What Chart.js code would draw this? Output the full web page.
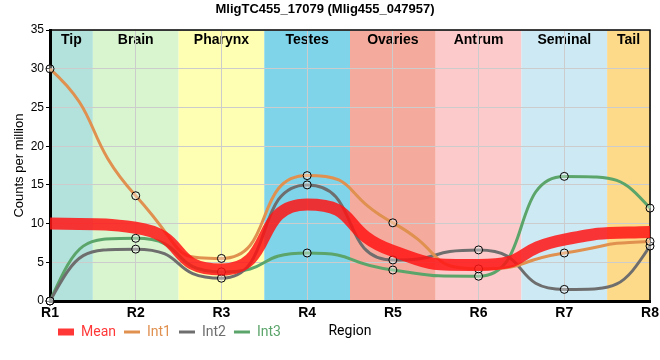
<!DOCTYPE html>
<html>
<head>
<meta charset="utf-8">
<script src="https://cdn.jsdelivr.net/npm/chart.js@4.4.1/dist/chart.umd.min.js"></script>
<style>
  html, body { margin: 0; padding: 0; background: #ffffff; }
  #wrap { width: 660px; height: 360px; position: relative; }
</style>
</head>
<body>
<div id="wrap"><canvas id="c" width="660" height="360"></canvas></div>
<script>
// ---- data ----
const categories = ['R1', 'R2', 'R3', 'R4', 'R5', 'R6', 'R7', 'R8'];
const meanValues = [10.0, 9.47, 4.07, 12.47, 6.47, 4.65, 7.93, 8.93];
const int1Values = [30.0, 13.6, 5.5, 16.2, 10.1, 4.15, 6.2, 7.7];
const int2Values = [0.0, 6.7, 2.94, 15.0, 5.3, 6.6, 1.5, 7.1];
const int3Values = [0.0, 8.1, 3.76, 6.2, 4.0, 3.2, 16.1, 12.0];
const regionNames = ['Tip', 'Brain', 'Pharynx', 'Testes', 'Ovaries', 'Antrum', 'Seminal', 'Tail'];
const regionColors = ['#b3e2dd', '#d9f5d0', '#ffffb3', '#80d4ea', '#f4ab9d', '#fccaca', '#cdeaf4', '#fdda8a'];
const yMin = 0, yMax = 35, yStep = 5;
const chartTitle = 'MligTC455_17079 (Mlig455_047957)';
const xTitle = 'Region';
const yTitle = 'Counts per million';

const seriesColors = {
  Mean: 'rgba(255,20,20,0.85)',
  Int1: '#e0904f',
  Int2: '#6e6e6e',
  Int3: '#5ba56a'
};

Chart.defaults.font.family = '"Liberation Sans", Arial, sans-serif';
Chart.defaults.color = '#000';

const bandsPlugin = {
  id: 'bands',
  beforeDraw(chart) {
    const {ctx, chartArea: a, scales: {x}} = chart;
    ctx.save();
    for (let i = 0; i < regionNames.length; i++) {
      let l = Math.max(a.left, x.getPixelForValue(i - 0.5));
      let r = Math.min(a.right, x.getPixelForValue(i + 0.5));
      ctx.fillStyle = regionColors[i];
      ctx.fillRect(l, a.top, r - l, a.bottom - a.top);
    }
    ctx.fillStyle = '#000';
    ctx.font = 'bold 14px "Liberation Sans", Arial, sans-serif';
    ctx.textAlign = 'center';
    ctx.textBaseline = 'middle';
    for (let i = 0; i < regionNames.length; i++) {
      let l = Math.max(a.left, x.getPixelForValue(i - 0.5));
      let r = Math.min(a.right, x.getPixelForValue(i + 0.5));
      ctx.fillText(regionNames[i], (l + r) / 2, a.top + 10);
    }
    ctx.restore();
  },
  beforeDatasetsDraw(chart) {
    const {ctx, chartArea: a} = chart;
    ctx.save();
    ctx.strokeStyle = '#000';
    ctx.lineWidth = 1.5;
    ctx.beginPath();
    ctx.moveTo(a.left, a.top);
    ctx.lineTo(a.right, a.top);
    ctx.lineTo(a.right, a.bottom);
    ctx.stroke();
    ctx.restore();
  }
};

// Smoother, plateau-style monotone curve: longer Bezier handles on the library's own points
const smoothPlugin = {
  id: 'smoothCurves',
  beforeDatasetsDraw(chart) {
    const K = 1.9;
    chart.data.datasets.forEach((ds, di) => {
      const meta = chart.getDatasetMeta(di);
      if (!meta.dataset || !meta.data.length) return;
      meta.dataset.updateControlPoints(chart.chartArea, 'x');
      const pts = meta.data;
      const n = pts.length;
      const d = [];
      const m = new Array(n).fill(0);
      for (let i = 0; i < n - 1; i++) d.push((pts[i + 1].y - pts[i].y) / (pts[i + 1].x - pts[i].x));
      for (let i = 1; i < n - 1; i++) m[i] = d[i - 1] * d[i] > 0 ? (d[i - 1] + d[i]) / 2 : 0;
      m[0] = d[0] === 0 ? 0 : d[0] * Math.max(0.3, 3 - 3.2 * (m[1] / d[0]));
      m[n - 1] = d[n - 2] === 0 ? 0 : d[n - 2] * Math.max(0.3, 3 - 3.2 * (m[n - 2] / d[n - 2]));
      for (let i = 0; i < n - 1; i++) {
        if (d[i] === 0) { m[i] = 0; m[i + 1] = 0; continue; }
        const a = m[i] / d[i], b = m[i + 1] / d[i];
        const s = a * a + b * b;
        if (s > 9) { const t = 3 / Math.sqrt(s); m[i] = t * a * d[i]; m[i + 1] = t * b * d[i]; }
      }
      for (let i = 0; i < n; i++) {
        const p = pts[i];
        if (i < n - 1) {
          const q = pts[i + 1];
          let hx = K * (q.x - p.x) / 3, hy = m[i] * hx;
          const lim = Math.abs(q.y - p.y);
          if (hy !== 0 && Math.abs(hy) > lim) { const s = lim / Math.abs(hy); hx *= s; hy *= s; }
          p.cp2x = p.x + hx; p.cp2y = p.y + hy;
        } else { p.cp2x = p.x; p.cp2y = p.y; }
        if (i > 0) {
          const o = pts[i - 1];
          let hx = K * (p.x - o.x) / 3, hy = m[i] * hx;
          const lim = Math.abs(p.y - o.y);
          if (hy !== 0 && Math.abs(hy) > lim) { const s = lim / Math.abs(hy); hx *= s; hy *= s; }
          p.cp1x = p.x - hx; p.cp1y = p.y - hy;
        } else { p.cp1x = p.x; p.cp1y = p.y; }
      }
      meta.dataset._path = undefined;
    });
  }
};

function lineDs(label, data, width, points) {
  return {
    label: label,
    data: data,
    borderColor: seriesColors[label],
    backgroundColor: seriesColors[label],
    borderWidth: width,
    cubicInterpolationMode: 'monotone',
    fill: false,
    pointRadius: points ? 4 : 0,
    pointHoverRadius: points ? 4 : 0,
    pointBorderColor: '#000',
    pointBorderWidth: 1,
    pointBackgroundColor: 'rgba(255,255,255,0.35)',
    clip: false
  };
}

new Chart(document.getElementById('c'), {
  type: 'line',
  data: {
    labels: categories,
    datasets: [
      lineDs('Mean', meanValues, 12, false),
      lineDs('Int1', int1Values, 3, true),
      lineDs('Int2', int2Values, 3, true),
      lineDs('Int3', int3Values, 3, true)
    ]
  },
  options: {
    responsive: false,
    animation: false,
    events: [],
    layout: { padding: { top: 2, right: 10, bottom: 11, left: 0 } },
    plugins: {
      title: {
        display: true,
        text: chartTitle,
        font: { size: 13, weight: 'bold' },
        color: '#000',
        padding: { top: 0, bottom: 12.5 }
      },
      tooltip: { enabled: false },
      legend: {
        position: 'bottom',
        align: 'start',
        fullSize: false,
        labels: {
          usePointStyle: true,
          pointStyle: 'line',
          pointStyleWidth: 16,
          boxHeight: 14,
          padding: 8,
          font: { size: 14, family: 'Roboto, "Liberation Sans", sans-serif' },
          generateLabels(chart) {
            const items = Chart.defaults.plugins.legend.labels.generateLabels(chart);
            items.forEach(it => {
              const ds = chart.data.datasets[it.datasetIndex];
              it.pointStyle = 'line';
              it.lineWidth = ds.label === 'Mean' ? 7 : 3;
              it.strokeStyle = ds.borderColor;
              it.fontColor = ds.borderColor;
            });
            return items;
          }
        }
      }
    },
    scales: {
      x: {
        type: 'category',
        offset: false,
        afterFit(s) { s.height = 16; s.paddingLeft = 0; s.paddingRight = 0; },
        grid: { color: '#cccccc', drawTicks: false, lineWidth: 1 },
        border: { color: '#000', width: 3 },
        ticks: { padding: 4, font: { size: 14, weight: 'bold' }, color: '#000', maxRotation: 0 },
        title: {
          display: true,
          text: xTitle,
          font: { size: 14, family: 'Roboto, "Liberation Sans", sans-serif' },
          color: '#000',
          padding: { top: 0, bottom: -23 }
        }
      },
      y: {
        min: yMin,
        max: yMax,
        afterFit(s) { s.width = 50; },
        grid: { color: '#cccccc', tickColor: '#000', tickLength: 4, lineWidth: 1 },
        border: { color: '#000', width: 3 },
        ticks: { stepSize: yStep, padding: 2, font: { size: 12 }, color: '#000' },
        title: {
          display: true,
          text: yTitle,
          font: { size: 13 },
          color: '#000',
          padding: { top: 12, bottom: 0 }
        }
      }
    }
  },
  plugins: [bandsPlugin, smoothPlugin]
});
</script>
</body>
</html>
